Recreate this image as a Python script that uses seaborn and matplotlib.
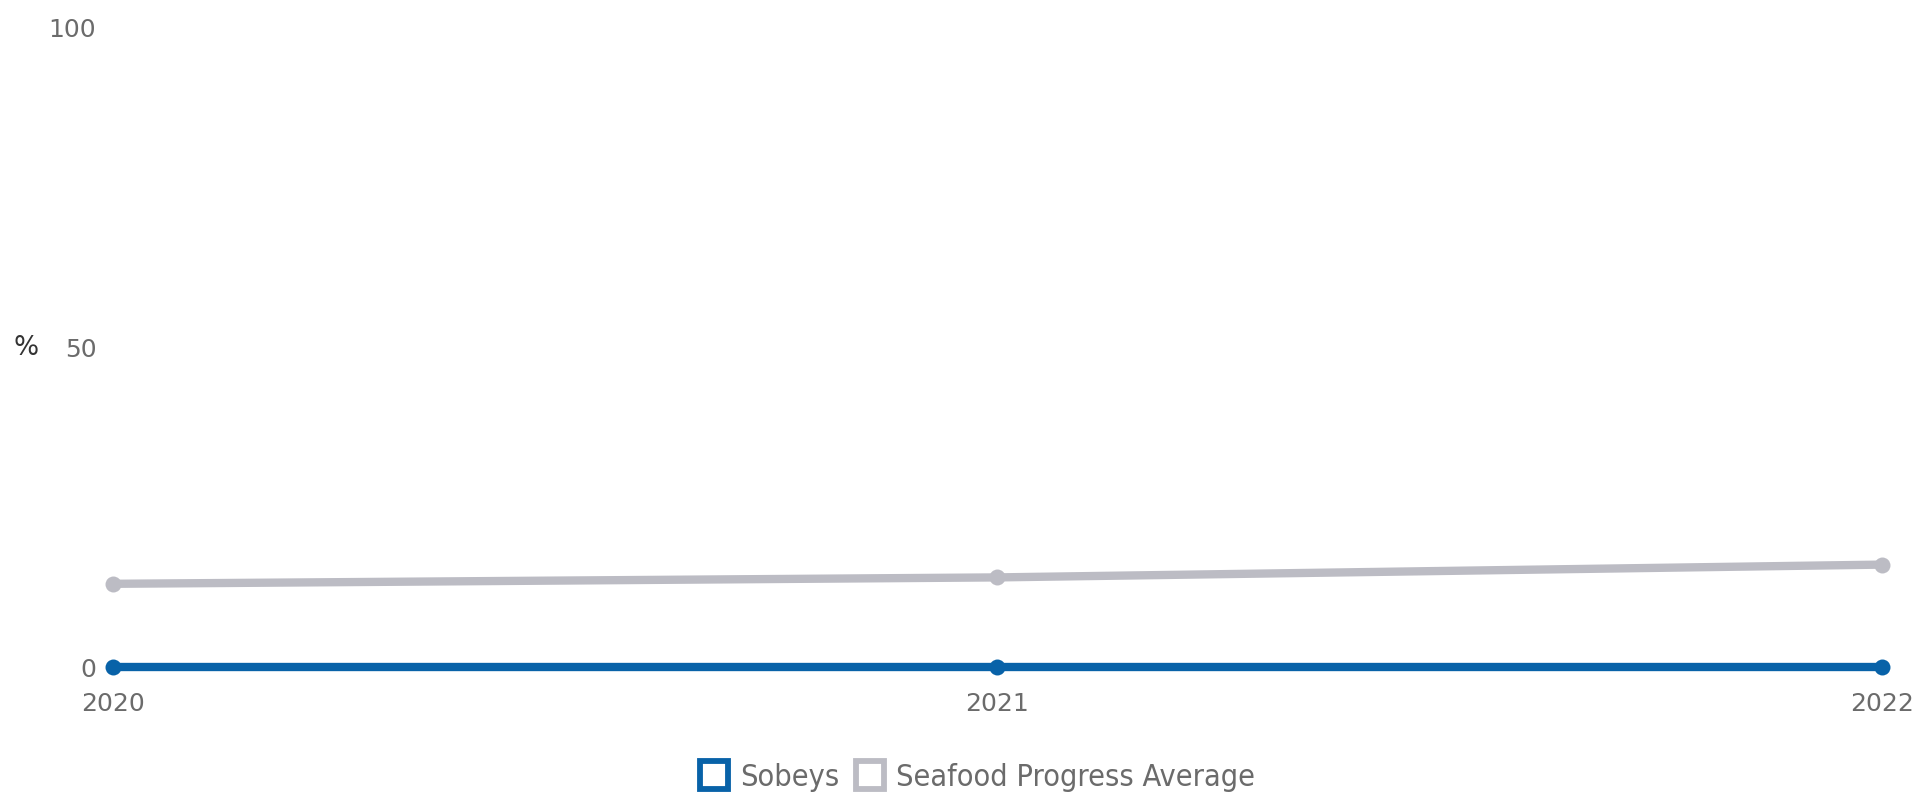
import matplotlib
matplotlib.use("Agg")
import matplotlib.pyplot as plt
from matplotlib.lines import Line2D
from matplotlib.font_manager import FontProperties
import seaborn as sns
import pandas as pd

# Chart data
years = [2020, 2021, 2022]
sobeys = [0, 0, 0]
seafood_avg = [13, 14, 16]
series_names = ["Sobeys", "Seafood Progress Average"]
y_ticks = [0, 50, 100]

BLUE = "#0862a8"
GREY = "#bcbcc4"

df = pd.DataFrame({
    "year": years * 2,
    "value": sobeys + seafood_avg,
    "series": [series_names[0]] * len(years) + [series_names[1]] * len(years),
})

sns.set_theme(style="white")
plt.rcParams["font.family"] = ["DejaVu Sans"]

fig = plt.figure(figsize=(19.32, 7.99), dpi=100)
ax = fig.add_axes([0.0585, 0.1652, 0.9156, 0.8010])

# draw the average first so Sobeys sits on top
order = [series_names[1], series_names[0]]
sns.lineplot(data=df, x="year", y="value", hue="series", hue_order=order,
             palette={series_names[0]: BLUE, series_names[1]: GREY},
             marker="o", markersize=11.5, markeredgewidth=0, linewidth=6,
             legend=False, ax=ax, clip_on=False)

ax.set_xlim(2020, 2022)
ax.set_ylim(0, 100)
ax.set_xticks(years)
ax.set_xticklabels([str(y) for y in years])
ax.set_yticks(y_ticks)
ax.set_xlabel("")
ax.set_ylabel("")
for s in ax.spines.values():
    s.set_visible(False)
ax.tick_params(axis="y", length=0, pad=12, labelsize=18, labelcolor="#6b6b6b")
ax.tick_params(axis="x", length=0, pad=18, labelsize=18, labelcolor="#6b6b6b")
ax.grid(False)

fig.text(0.0072, 0.565, "%", fontsize=19, color="#333333", va="center", ha="left")

handles = [
    Line2D([], [], linestyle="none", marker="s", markersize=20,
           markerfacecolor="white", markeredgecolor=c, markeredgewidth=4.2)
    for c in (BLUE, GREY)
]
legend_font = FontProperties(family="DejaVu Sans", stretch="condensed", size=22)
leg = fig.legend(handles, series_names, loc="center",
                 bbox_to_anchor=(0.5057, 0.027), ncol=2, frameon=False,
                 handlelength=1.0, handletextpad=0.35, columnspacing=0.5,
                 prop=legend_font)
for t in leg.get_texts():
    t.set_color("#6b6b6b")

fig.savefig("out.png", dpi=100, facecolor="white")
